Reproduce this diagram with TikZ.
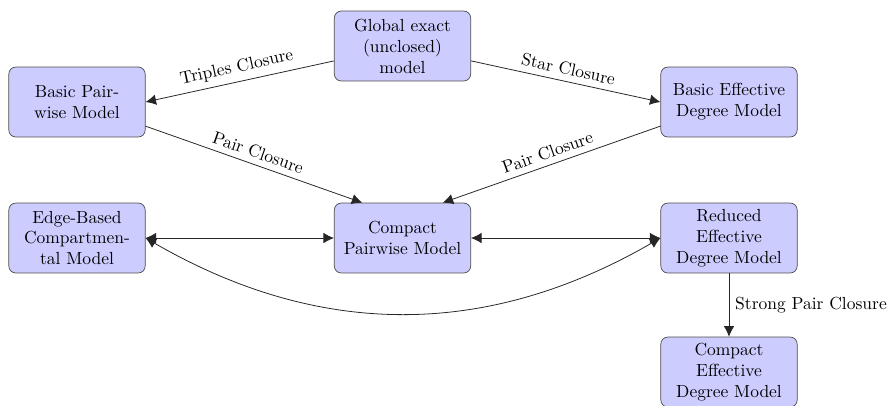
\documentclass[tikz,border=0pt]{standalone}
\usetikzlibrary{arrows.meta}
\begin{document}
\begin{tikzpicture}[x=0.572pt, y=-0.572pt,
  >={Latex[length=6pt,width=6pt]},
  model/.style={draw=black!70, fill=blue!20, rounded corners=4pt,
    minimum width=78pt, minimum height=40pt, align=center, inner sep=3pt},
  link/.style={draw=black!85, line width=0.45pt},
  lab/.style={midway, above, sloped}]
\useasboundingbox (0,0) rectangle (890,405);

% model boxes
\node[model] (global) at (402.5,46)  {Global exact\\(unclosed)\\model};
\node[model] (bp)     at (77,102)    {Basic Pair-\\wise Model};
\node[model] (bed)    at (729,102)   {Basic Effective\\Degree Model};
\node[model] (ebcm)   at (77,238)    {Edge-Based\\Compartmen-\\tal Model};
\node[model] (cpm)    at (402.5,238) {Compact\\Pairwise Model};
\node[model] (red)    at (729,238)   {Reduced\\Effective\\Degree Model};
\node[model] (ced)    at (729,372)   {Compact\\Effective\\Degree Model};

% closures
\draw[link,->] (global) -- (bp.east) node[lab] {Triples Closure};
\draw[link,->] (global) -- (bed.west) node[lab] {Star Closure};
\draw[link,->] (bp) -- ([xshift=-23pt]cpm.north) node[lab] {Pair Closure};
\draw[link,->] (bed) -- ([xshift=23pt]cpm.north) node[lab] {Pair Closure};
\draw[link,->] (red) -- (ced) node[midway, right] {Strong Pair Closure};

% equivalences
\draw[link,<->] (ebcm.east) -- (cpm.west);
\draw[link,<->] (cpm.east) -- (red.west);
\draw[link,<->] (ebcm.east) .. controls +(174,100.5) and +(-174,100.5) .. (red.west);
\end{tikzpicture}
\end{document}
